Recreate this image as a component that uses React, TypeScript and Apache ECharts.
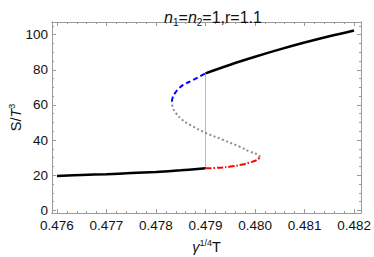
import React, { useEffect, useRef } from "react";
import * as echarts from "echarts";

const xTicks = [0.476, 0.477, 0.478, 0.479, 0.48, 0.481, 0.482];
const yTicks = [0, 20, 40, 60, 80, 100];
const xMinorStep = 0.0002;
const yMinorStep = 5;

// branch data [x = gamma^(1/4) T, y = S/T^3]
const lowerStable: [number, number][] = [
  [0.476, 19.6], [0.4765, 20.1], [0.477, 20.6], [0.4775, 21.2],
  [0.478, 21.9], [0.4785, 22.8], [0.479, 23.9],
];
const lowerMeta: [number, number][] = [
  [0.479, 23.9], [0.4793, 24.3], [0.4795, 24.9], [0.47975, 26.1],
  [0.4799, 27.3], [0.48003, 28.6], [0.4801, 30.2],
];
const unstable: [number, number][] = [
  [0.4801, 30.2], [0.48007, 31.5], [0.4799, 33.4], [0.4797, 36.1],
  [0.47936, 40.1], [0.47902, 43.9], [0.47869, 48.6], [0.47852, 51.8],
  [0.4784, 55.5], [0.47834, 58.5], [0.47832, 61.9],
];
const upperMeta: [number, number][] = [
  [0.47832, 61.9], [0.47834, 64.5], [0.47838, 66.6], [0.47846, 69.3],
  [0.47855, 71.4], [0.47875, 74.2], [0.479, 78.0],
];
const upperStable: [number, number][] = [
  [0.479, 78.0], [0.4795, 82.9], [0.48, 87.4], [0.4805, 91.6],
  [0.481, 95.5], [0.4815, 99.1], [0.482, 102.4],
];
const transition: [number, number][] = [
  [0.479, 23.9], [0.479, 78.0],
];

const X_MIN = 0.4759;
const X_MAX = 0.48214;
const Y_MIN = -1.5;
const Y_MAX = 107.2;

function minors(majors: number[], step: number, lo: number, hi: number) {
  const out: number[] = [];
  const start = majors[0];
  for (let k = -20; k < 1000; k++) {
    const v = +(start + k * step).toFixed(6);
    if (v < lo) continue;
    if (v > hi) break;
    if (!majors.some((m) => Math.abs(m - v) < step / 10)) out.push(v);
  }
  return out;
}

const FONT = "Liberation Sans, Arial, sans-serif";
const FRAME = "#9a9a9a";
const TXT = "#111111";

export default function App() {
  const ref = useRef<HTMLDivElement>(null);
  useEffect(() => {
    if (!ref.current) return;
    const chart = echarts.init(ref.current, undefined, { renderer: "svg" });
    const xMin = minors(xTicks, xMinorStep, X_MIN, X_MAX);
    const yMin = minors(yTicks, yMinorStep, Y_MIN, Y_MAX);

    const baseX = (pos: string, custom: number[], len: number, labels: boolean, name?: any) => ({
      type: "value",
      position: pos,
      min: X_MIN,
      max: X_MAX,
      axisLine: { show: true, onZero: false, lineStyle: { color: FRAME, width: 1 } },
      axisTick: { show: true, inside: true, length: len, customValues: custom, lineStyle: { color: FRAME, width: 1 } },
      axisLabel: labels
        ? { show: true, customValues: custom, formatter: (v: number) => v.toFixed(3), color: TXT, fontSize: 13.5, fontFamily: FONT, margin: 5 }
        : { show: false },
      splitLine: { show: false },
      nameMoveOverlap: false,
      ...(name || {}),
    });
    const baseY = (pos: string, custom: number[], len: number, labels: boolean, name?: any) => ({
      type: "value",
      position: pos,
      min: Y_MIN,
      max: Y_MAX,
      axisLine: { show: true, onZero: false, lineStyle: { color: FRAME, width: 1 } },
      axisTick: { show: true, inside: true, length: len, customValues: custom, lineStyle: { color: FRAME, width: 1 } },
      axisLabel: labels
        ? { show: true, customValues: custom, formatter: (v: number) => String(v), color: TXT, fontSize: 13.5, fontFamily: FONT, margin: 4 }
        : { show: false },
      splitLine: { show: false },
      nameMoveOverlap: false,
      ...(name || {}),
    });

    const line = (data: [number, number][], color: string, type: any, width: number, z = 3) => ({
      type: "line",
      xAxisIndex: 0,
      yAxisIndex: 0,
      data,
      symbol: "none",
      smooth: 0.4,
      z,
      lineStyle: { color, width, type, cap: "butt" },
    });

    const nameRich = {
      i: { fontStyle: "italic", fontWeight: "normal", fontSize: 14.5, fontFamily: FONT, color: TXT, lineHeight: 18 },
      r: { fontWeight: "normal", fontSize: 14.5, fontFamily: FONT, color: TXT, lineHeight: 18 },
      p: { fontWeight: "normal", fontSize: 9, fontFamily: FONT, color: TXT, lineHeight: 9, verticalAlign: "top" },
    };

    chart.setOption({
      animation: false,
      title: {
        text: "{i|n}{s|1}{r|=}{i|n}{s|2}{r|=1,r=1.1}",
        left: 208,
        top: 2,
        textAlign: "center",
        textStyle: {
          fontWeight: "normal",
          rich: {
            i: { fontStyle: "italic", fontWeight: "normal", fontSize: 16, fontFamily: FONT, color: TXT, lineHeight: 20 },
            r: { fontWeight: "normal", fontSize: 16, fontFamily: FONT, color: TXT, lineHeight: 20 },
            s: { fontWeight: "normal", fontSize: 10, fontFamily: FONT, color: TXT, lineHeight: 9, verticalAlign: "bottom" },
          },
        },
      },
      grid: { left: 52, right: 13, top: 22, bottom: 44, containLabel: false, outerBoundsMode: "none" },
      xAxis: [
        baseX("bottom", xTicks, 4, true, {
          name: "{i|γ}{p|1/4}{r|T}",
          nameLocation: "middle",
          nameGap: 25,
          nameTextStyle: { fontWeight: "normal", color: TXT, rich: nameRich },
        }),
        baseX("bottom", xMin, 2, false),
        baseX("top", xTicks, 4, false),
        baseX("top", xMin, 2, false),
      ],
      yAxis: [
        baseY("left", yTicks, 4, true, {
          name: "{r|S/}{i|T}{p|3}",
          nameLocation: "middle",
          nameGap: 27,
          nameTextStyle: { fontWeight: "normal", color: TXT, rich: nameRich },
        }),
        baseY("left", yMin, 2, false),
        baseY("right", yTicks, 4, false),
        baseY("right", yMin, 2, false),
      ],
      series: [
        { ...line(transition, "#a8a8a8", "solid", 0.8, 1), smooth: false },
        line(lowerStable, "#000000", "solid", 2.5),
        line(lowerMeta, "#ff0000", [6, 2, 1.5, 2], 2),
        line(unstable, "#8c8c8c", [2, 2.5], 2),
        line(upperMeta, "#0000ff", [5, 3], 2),
        line(upperStable, "#000000", "solid", 2.5),
      ],
    });
    return () => chart.dispose();
  }, []);
  return (
    <div
      ref={ref}
      style={{ position: "fixed", left: 0, top: 0, width: 374, height: 257, background: "#fff" }}
    />
  );
}
